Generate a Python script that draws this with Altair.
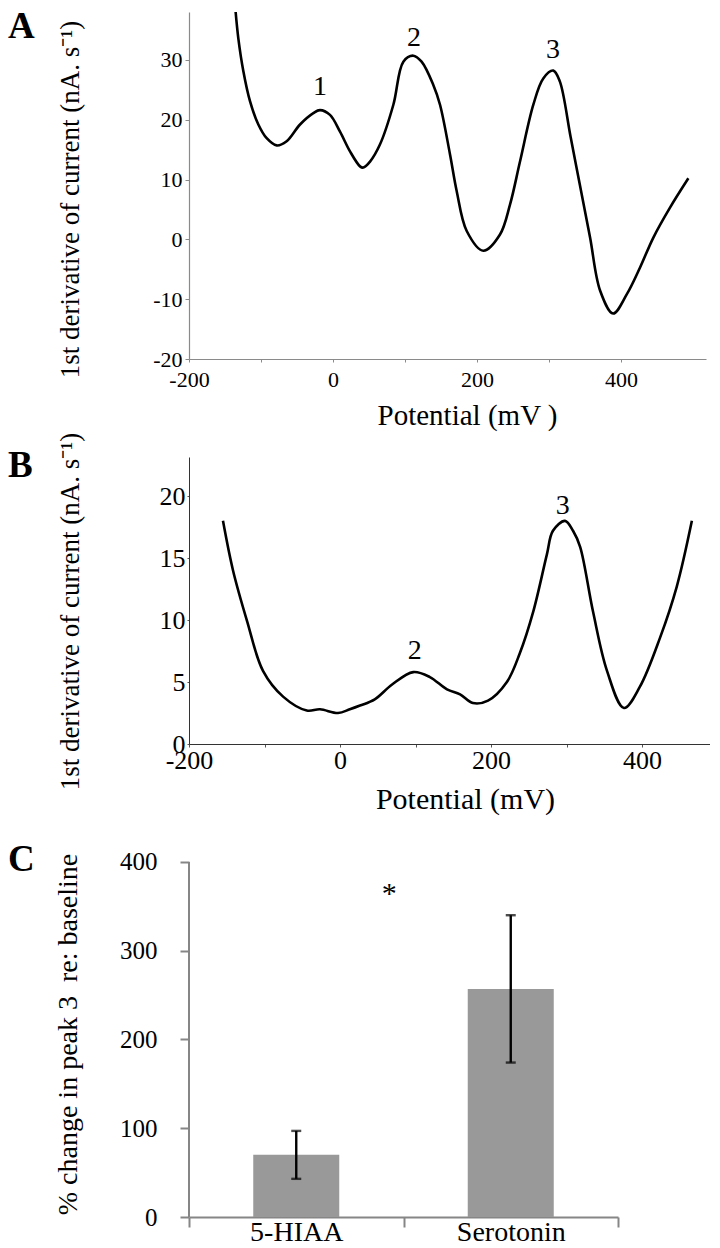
import altair as alt
import pandas as pd

SERIF = "Liberation Serif"

# ---------- Panel A data ----------
a_potential = [-136.1, -131.5, -124.5, -115.3, -103.7, -92.1, -78.2, -64.4, -45.8, -27.3, -18.1,
               -4.2, 9.7, 23.6, 37.5, 42, 51.4, 65, 83.8, 97.7, 111.5, 123, 139.3, 148.6, 162.5,
               171.8, 185.7, 208.8, 231.9, 245.8, 259.7, 278.2, 292, 306, 315, 330, 343, 357,
               371, 389, 407.9, 426.4, 444.9, 468, 493.5]
a_deriv = [39.2, 33.6, 28.1, 23.1, 19.2, 16.9, 15.7, 16.4, 19.2, 21.1, 21.6,
           20.8, 18, 14.7, 12.2, 12, 13, 15.8, 22.5, 29.7, 30.7, 29.7, 25.8, 22.5, 14.2,
           8.05, 1.4, -1.9, 0.8, 5.8, 13, 22.5, 26.9, 28.2, 26.4, 17.1, 9, 0.3,
           -8.6, -12.4, -9.2, -4.7, 0.3, 5.3, 10.2]
a_peak_names = ["1", "2", "3"]
a_peak_x = [-18, 112.5, 305.5]
a_peak_y = [25.5, 33.7, 31.7]

# ---------- Panel B data ----------
b_potential = [-155, -141.7, -123, -102, -75, -44, -26.5, -2.6, 13, 26.5, 46, 69, 97, 119,
               141.7, 159, 176, 196, 221, 238, 256, 274, 282, 298, 308.6, 318, 335, 353.6,
               376, 397, 424, 446, 466]
b_deriv = [18, 14, 9.9, 5.9, 3.8, 2.7, 2.8, 2.5, 2.8, 3.1, 3.6, 4.8, 5.8, 5.4,
           4.4, 4.0, 3.3, 3.5, 5.0, 7.3, 10.7, 15.3, 17.2, 18, 17.2, 15.9, 10.7, 5.9,
           2.9, 4.6, 8.6, 12.7, 18]
b_peak_names = ["2", "3"]
b_peak_x = [99, 295]
b_peak_y = [7.5, 19.2]

# ---------- Panel C data ----------
c_groups = ["5-HIAA", "Serotonin"]
c_means = [70, 257]
c_errors = [27, 83]
c_star_y = [364]

A_TICK = [-200, -100, 0, 100, 200, 300, 400]


def panel_letter(letter, x, y):
    return alt.Chart(pd.DataFrame({"t": [letter]})).mark_text(
        font=SERIF, fontSize=37, fontWeight="bold", align="left", baseline="alphabetic",
        color="black"
    ).encode(x=alt.value(x), y=alt.value(y), text="t:N")


# ---------- Panel A ----------
dfA = pd.DataFrame({"potential": a_potential, "deriv": a_deriv})
A_W, A_H = 517, 347
xA = alt.X("potential:Q",
           scale=alt.Scale(domain=[-200, 518], nice=False, zero=False),
           axis=alt.Axis(values=A_TICK,
                         labelExpr="datum.value % 200 == 0 ? toString(datum.value) : ''",
                         title="Potential (mV )", grid=False,
                         domainColor="#8a8a8a", domainWidth=1.2,
                         tickColor="#8a8a8a", tickSize=3, tickWidth=1,
                         labelFont=SERIF, labelFontSize=22, labelColor="black",
                         labelPadding=7, labelFlush=False,
                         titleFont=SERIF, titleFontSize=29, titleFontWeight="normal",
                         titleColor="black", titleX=278, titleY=65,
                         titleBaseline="alphabetic", titleAlign="center"))
yA = alt.Y("deriv:Q",
           scale=alt.Scale(domain=[-20, 38], nice=False, zero=False),
           axis=alt.Axis(values=[-20, -10, 0, 10, 20, 30],
                         labelExpr="toString(datum.value)",
                         title="1st derivative of current (nA. s⁻¹)", grid=False,
                         domainColor="#8a8a8a", domainWidth=1.2,
                         tickColor="#8a8a8a", tickSize=4, tickWidth=1,
                         labelFont=SERIF, labelFontSize=22, labelColor="black",
                         labelPadding=3,
                         titleFont=SERIF, titleFontSize=27, titleFontWeight="normal",
                         titleColor="black", titleX=-105, titleY=187,
                         titleBaseline="bottom", titleAlign="center", titleAngle=270))
lineA = alt.Chart(dfA).mark_line(color="black", strokeWidth=2.6, interpolate="catmull-rom",
                                 clip=True).encode(x=xA, y=yA)
peaksA = alt.Chart(pd.DataFrame({"potential": a_peak_x, "deriv": a_peak_y, "n": a_peak_names})).mark_text(
    font=SERIF, fontSize=28, color="black", baseline="middle"
).encode(x=xA, y=yA, text="n:N")
chartA = alt.layer(lineA, peaksA, panel_letter("A", -181, 26)).properties(width=A_W, height=A_H)

# ---------- Panel B ----------
dfB = pd.DataFrame({"potential": b_potential, "deriv": b_deriv})
B_W, B_H = 521, 287
xB = alt.X("potential:Q",
           scale=alt.Scale(domain=[-200, 490], nice=False, zero=False),
           axis=alt.Axis(values=A_TICK,
                         labelExpr="datum.value % 200 == 0 ? toString(datum.value) : ''",
                         title="Potential (mV)", grid=False,
                         domainColor="#333333", domainWidth=1,
                         tickColor="#555555", tickSize=3, tickWidth=1,
                         labelFont=SERIF, labelFontSize=26, labelColor="black",
                         labelPadding=0, labelFlush=False,
                         titleFont=SERIF, titleFontSize=30, titleFontWeight="normal",
                         titleColor="black", titleX=276, titleY=64,
                         titleBaseline="alphabetic", titleAlign="center"))
yB = alt.Y("deriv:Q",
           scale=alt.Scale(domain=[0, 23.15], nice=False, zero=False),
           axis=alt.Axis(values=[0, 5, 10, 15, 20],
                         title="1st derivative of current (nA. s⁻¹)", grid=False,
                         domainColor="#333333", domainWidth=1,
                         tickColor="#555555", tickSize=2, tickWidth=1,
                         labelFont=SERIF, labelFontSize=26, labelColor="black",
                         labelPadding=2,
                         titleFont=SERIF, titleFontSize=27, titleFontWeight="normal",
                         titleColor="black", titleX=-105, titleY=154,
                         titleBaseline="bottom", titleAlign="center", titleAngle=270))
lineB = alt.Chart(dfB).mark_line(color="black", strokeWidth=2.6, interpolate="catmull-rom").encode(x=xB, y=yB)
peaksB = alt.Chart(pd.DataFrame({"potential": b_peak_x, "deriv": b_peak_y, "n": b_peak_names})).mark_text(
    font=SERIF, fontSize=28, color="black", baseline="middle"
).encode(x=xB, y=yB, text="n:N")
chartB = alt.layer(lineB, peaksB, panel_letter("B", -181, 20)).properties(width=B_W, height=B_H)

# ---------- Panel C ----------
dfC = pd.DataFrame({"group": c_groups, "mean": c_means, "err": c_errors})
dfC["lo"] = dfC["mean"] - dfC["err"]
dfC["hi"] = dfC["mean"] + dfC["err"]
C_W, C_H = 429, 375
GREY_AX = "#868686"
xC = alt.X("group:N", sort=c_groups,
           scale=alt.Scale(paddingInner=0, paddingOuter=0),
           axis=alt.Axis(title=None, labelAngle=0, tickBand="extent",
                         domainColor=GREY_AX, domainWidth=2,
                         tickColor=GREY_AX, tickSize=10, tickWidth=2,
                         labelFont=SERIF, labelFontSize=28, labelColor="black",
                         labelPadding=-9))
yScaleC = alt.Scale(domain=[0, 422.5], nice=False, zero=True)
yAxisC = alt.Axis(values=[0, 100, 200, 300, 400], domain=False, grid=False,
                  title="% change in peak 3\u00a0 re: baseline",
                  tickColor=GREY_AX, tickSize=9, tickWidth=2,
                  labelFont=SERIF, labelFontSize=25, labelColor="black",
                  labelPadding=23,
                  titleFont=SERIF, titleFontSize=28, titleFontWeight="normal",
                  titleColor="black", titleX=-107, titleY=192,
                  titleBaseline="bottom", titleAlign="center", titleAngle=270)
yC = alt.Y("mean:Q", scale=yScaleC, axis=yAxisC)
bars = alt.Chart(dfC).mark_bar(color="#999999", size=86).encode(x=xC, y=yC)
err_rule = alt.Chart(dfC).mark_rule(color="black", strokeWidth=2.4).encode(
    x=xC, y=alt.Y("lo:Q", scale=yScaleC, axis=yAxisC), y2="hi:Q")
cap_lo = alt.Chart(dfC).mark_tick(color="black", thickness=2.4, size=10, orient="horizontal").encode(
    x=xC, y=alt.Y("lo:Q", scale=yScaleC, axis=yAxisC))
cap_hi = alt.Chart(dfC).mark_tick(color="black", thickness=2.4, size=10, orient="horizontal").encode(
    x=xC, y=alt.Y("hi:Q", scale=yScaleC, axis=yAxisC))
y_domain_line = alt.Chart(pd.DataFrame({"lo": [0], "hi": [400]})).mark_rule(
    color=GREY_AX, strokeWidth=2).encode(x=alt.value(0), y=alt.Y("lo:Q", scale=yScaleC, axis=yAxisC), y2="hi:Q")
star = alt.Chart(pd.DataFrame({"group": [c_groups[0]], "y": c_star_y, "t": ["*"]})).mark_text(
    font=SERIF, fontSize=30, color="black", baseline="middle", dx=93
).encode(x=xC, y=alt.Y("y:Q", scale=yScaleC, axis=yAxisC), text="t:N")
chartC = alt.layer(bars, err_rule, cap_lo, cap_hi, y_domain_line, star,
                   panel_letter("C", -181, 29)).properties(width=C_W, height=C_H)

chart = alt.vconcat(chartA, chartB, chartC, spacing=98, bounds="flush").properties(
    padding=0
).configure_view(stroke=None).configure_axis(
    labelFont=SERIF, titleFont=SERIF, labelColor="black", titleColor="black",
    titleFontWeight="normal"
).configure_text(font=SERIF)

chart.save("out.html", embed_options={"renderer": "svg", "actions": False})
